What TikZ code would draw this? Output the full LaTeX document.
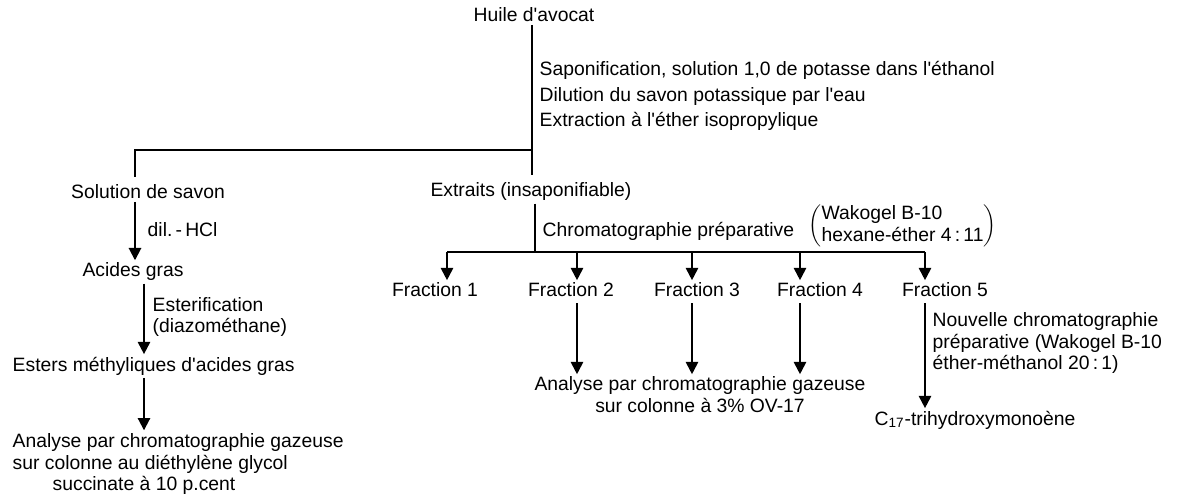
\documentclass[tikz,border=0pt]{standalone}
\usepackage{fontspec}
\setmainfont{Liberation Sans}
\usepackage{tikz}
\usetikzlibrary{arrows.meta}
\newcommand{\q}{\textquotesingle{}}

\begin{document}
\begin{tikzpicture}[x=0.02cm,y=-0.02cm,line width=1.1pt,
    every node/.style={font=\fontsize{11}{12.5}\selectfont,inner sep=1pt},
    arr/.style={-{Triangle[length=7pt,width=7pt]}}]
                        \useasboundingbox (0,0) rectangle (1194,497);
                        % left and top texts
                        \node (huile) at (534,15) {Huile d\q avocat};
                        \node[anchor=west,align=left,font=\fontsize{11}{14.7}\selectfont] (sapo) at (537,96) {Saponification, solution 1,0 de potasse dans l\q éthanol\\Dilution du savon potassique par l\q eau\\Extraction à l\q éther isopropylique};
                        \node (savon) at (148,192) {Solution de savon};
                        \node (extr) at (531,192) {Extraits (insaponifiable)};
                        \node[anchor=west] (hcl) at (145,230) {dil.\,-\,HCl};
                        \node (acides) at (133,272) {Acides gras};
                        \node[anchor=west,align=left] (ester) at (150,317) {Esterification\\(diazométhane)};
                        \node[anchor=west] (esters) at (10,366) {Esters méthyliques d\q acides gras};
                        \node[anchor=west,align=left] (ana1) at (10,464) {Analyse par chromatographie gazeuse\\sur colonne au diéthylène glycol\\\hspace*{0.8cm}succinate à 10 p.cent};
                        % right texts
                        \node[anchor=west] (chrom) at (540,231) {Chromatographie préparative};
                        \node[anchor=west] (wako) at (806,226) {$\left(\begin{tabular}{@{}l@{}}Wakogel B-10\\hexane-éther 4\,:\,11\end{tabular}\right)$};
                        \node (f1) at (435,290) {Fraction 1};
                        \node (f2) at (571,290) {Fraction 2};
                        \node (f3) at (697,290) {Fraction 3};
                        \node (f4) at (820,290) {Fraction 4};
                        \node (f5) at (945,290) {Fraction 5};
                        \node[align=center] (ana2) at (700,395) {Analyse par chromatographie gazeuse\\sur colonne à 3\% OV-17};
                        \node[anchor=west,align=left] (nouv) at (930,343) {Nouvelle chromatographie\\préparative (Wakogel B-10\\éther-méthanol 20\,:\,1)};
                        \node[anchor=west] (c17) at (872,420) {C\textsubscript{17}-trihydroxymonoène};
                        % lines
                        \coordinate (jA) at (532,150);
                        \coordinate (jB) at (135,150);
                        \coordinate (jC) at (144,300);
                        \coordinate (jD) at (535,252);
                        \draw[shorten >=3pt] (huile.south -| jA) -- (extr.north -| jA);
                        \draw[shorten >=3pt] (jA) -- (jB) -- (jB |- savon.north);
                        \draw[arr] (savon.south -| jB) -- (acides.north -| jB);
                        \draw[arr] (acides.south -| jC) -- (esters.north -| jC);
                        \draw[arr] (esters.south -| jC) -- (ana1.north -| jC);
                        \draw (extr.south -| jD) -- (jD);
                        \foreach \i/\x in {1/447,2/577,3/692,4/800,5/925} {
                            \coordinate (t\i) at (\x,252);
                            \draw[arr] (t\i) -- (t\i |- f\i.north);
                        }
                        \draw (t1) -- (t5);
                        \foreach \i in {2,3,4} \draw[arr,shorten <=2pt] (f\i.south -| t\i) -- (ana2.north -| t\i);
                        \draw[arr,shorten <=2pt] (f5.south -| t5) -- (c17.north -| t5);
                    \end{tikzpicture}
\end{document}
